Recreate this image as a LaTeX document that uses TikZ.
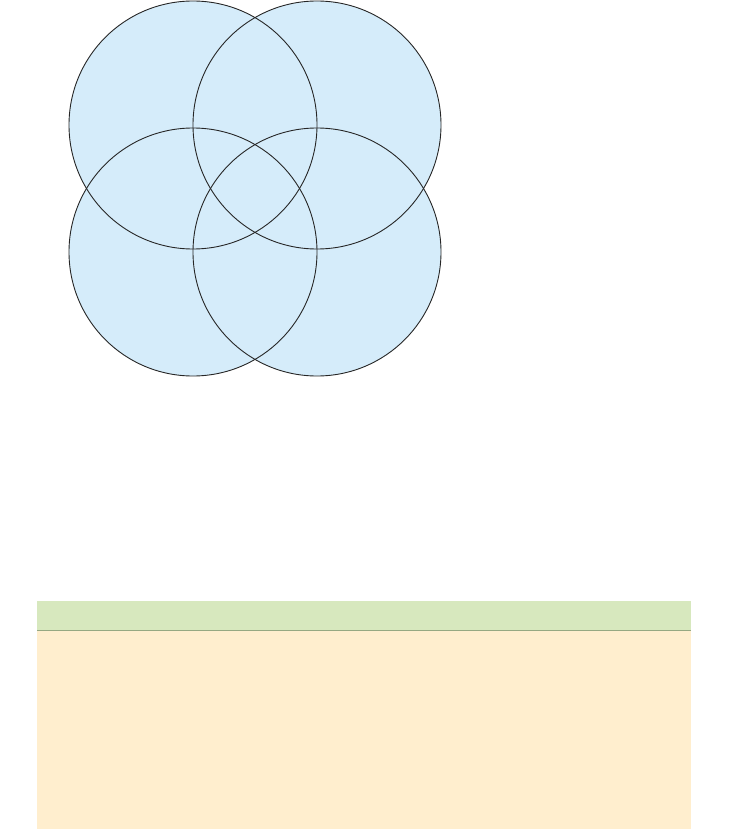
\documentclass[tikz,border=0pt]{standalone}
\definecolor{circfill}{RGB}{213,236,250}
\definecolor{hdrfill}{RGB}{215,232,190}
\definecolor{bodyfill}{RGB}{255,238,206}
\definecolor{sepline}{RGB}{150,168,130}
\tikzset{
  vcircle/.style={circle, minimum size=248pt, inner sep=0pt, outer sep=0pt},
}
\begin{document}
\begin{tikzpicture}[x=1pt,y=-1pt]
\useasboundingbox (0,0) rectangle (728,829);
% circle fills first
\foreach \n/\cx/\cy in {a/193/125,b/317/125,c/193/252,d/317/252}{
  \node[vcircle, fill=circfill] (\n) at (\cx,\cy) {};
}
% circle outlines
\foreach \n/\cx/\cy in {a/193/125,b/317/125,c/193/252,d/317/252}{
  \draw[line width=0.9pt, black!85] (\cx,\cy) circle (124);
}
% container
\fill[bodyfill] (37,630) rectangle (691,829);
\fill[hdrfill] (37,601) rectangle (691,630);
\node[inner sep=0pt] (hdr) at (364,615) {};
\draw[sepline, line width=1pt] (37,630.5) -- (691,630.5);
\end{tikzpicture}
\end{document}
